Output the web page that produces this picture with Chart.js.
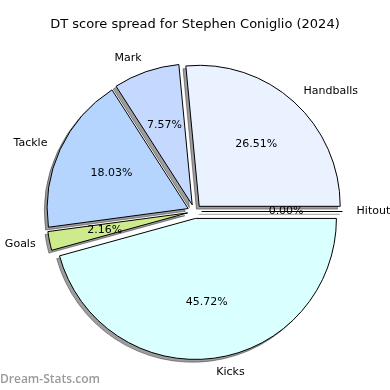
<!DOCTYPE html>
<html>
<head>
<meta charset="utf-8">
<script src="https://cdn.jsdelivr.net/npm/chart.js@4/dist/chart.umd.min.js"></script>
<style>
  html, body { margin: 0; padding: 0; background: #fff; }
</style>
</head>
<body>
<canvas id="pieChart" width="390" height="390"></canvas>
<script>
// Slices go clockwise from 3 o'clock (Chart.js), so the order is reversed vs the source
const categories = ['Kicks', 'Goals', 'Tackle', 'Mark', 'Handballs', 'Hitout'];
const scores = [45.72, 2.16, 18.03, 7.57, 26.51, 0.00];
const sliceColors = ['#d9ffff', '#cdea8c', '#b5d5ff', '#c5d9ff', '#eaf1ff', '#ffffff'];

const EXPLODE = 7;
const RADIUS = 141;
const FONT = '"DejaVu Sans", sans-serif';
const total = scores.reduce((a, b) => a + b, 0);

function arcProps(arc) {
    return arc.getProps(['x', 'y', 'startAngle', 'endAngle', 'outerRadius', 'circumference'], true);
}

// draw one slice pushed out along its middle angle
function drawSlice(ctx, arc) {
    const p = arcProps(arc);
    const mid = (p.startAngle + p.endAngle) / 2;
    ctx.save();
    ctx.translate(Math.cos(mid) * EXPLODE, Math.sin(mid) * EXPLODE);
    if (p.circumference === 0) {
        // empty slice shows up as a single edge line
        ctx.beginPath();
        ctx.moveTo(p.x, p.y);
        ctx.lineTo(p.x + Math.cos(p.startAngle) * p.outerRadius, p.y + Math.sin(p.startAngle) * p.outerRadius);
        ctx.strokeStyle = '#000';
        ctx.lineWidth = 1;
        ctx.stroke();
    } else {
        arc.draw(ctx);
    }
    ctx.restore();
}

const explodedPie = {
    id: 'explodedPie',
    beforeDatasetDraw(chart, args) {
        const ctx = chart.ctx;
        const arcs = args.meta.data;
        // shadows
        ctx.save();
        ctx.filter = 'brightness(0)';
        ctx.globalAlpha = 0.38;
        ctx.translate(-2.8, 2.8);
        arcs.forEach(a => drawSlice(ctx, a));
        ctx.restore();
        arcs.forEach(a => drawSlice(ctx, a));
        return false;
    },
    afterDatasetsDraw(chart) {
        const ctx = chart.ctx;
        const arcs = chart.getDatasetMeta(0).data;
        ctx.save();
        ctx.fillStyle = '#000';
        ctx.textBaseline = 'middle';
        ctx.font = '11px ' + FONT;
        arcs.forEach((arc, i) => {
            const p = arcProps(arc);
            const mid = (p.startAngle + p.endAngle) / 2;
            const dx = Math.cos(mid), dy = Math.sin(mid);
            const lr = EXPLODE + p.outerRadius * 1.1;
            ctx.textAlign = dx > 0 ? 'left' : 'right';
            ctx.fillText(categories[i], p.x + dx * lr, p.y + dy * lr);
            const pr = EXPLODE + p.outerRadius * 0.6;
            ctx.textAlign = 'center';
            ctx.fillText((scores[i] / total * 100).toFixed(2) + '%', p.x + dx * pr, p.y + dy * pr);
        });
        // title
        ctx.font = '13px ' + FONT;
        ctx.textAlign = 'center';
        ctx.fillText('DT score spread for Stephen Coniglio (2024)', chart.width / 2, 25);
        // watermark
        ctx.font = '600 12px "Open Sans", sans-serif';
        ctx.fillStyle = '#9a9a9a';
        ctx.textAlign = 'left';
        ctx.fillText('Dream-Stats.com', 0, 380);
        ctx.restore();
    }
};

const ctx = document.getElementById('pieChart').getContext('2d');
new Chart(ctx, {
    type: 'pie',
    data: {
        labels: categories,
        datasets: [{
            data: scores,
            backgroundColor: sliceColors,
            borderColor: '#000',
            borderWidth: 1,
            borderJoinStyle: 'miter'
        }]
    },
    options: {
        responsive: false,
        animation: false,
        events: [],
        rotation: 90,
        radius: RADIUS,
        layout: { padding: { left: 0, right: 1, top: 33, bottom: 0 } },
        plugins: {
            legend: { display: false },
            tooltip: { enabled: false },
            title: { display: false }
        }
    },
    plugins: [explodedPie]
});
</script>
</body>
</html>
